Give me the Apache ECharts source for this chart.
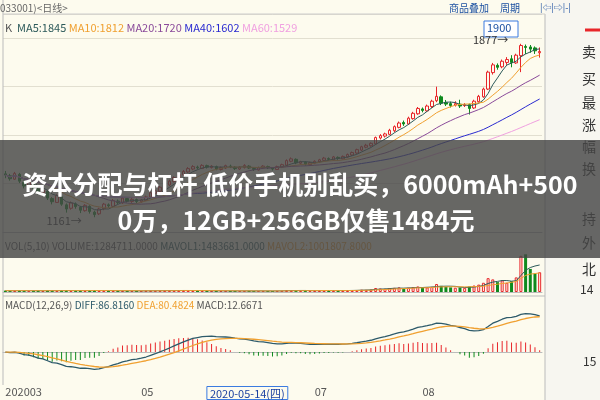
<!DOCTYPE html>
<html><head><meta charset="utf-8">
<script src="https://cdn.jsdelivr.net/npm/echarts@6/dist/echarts.min.js"></script>
<style>html,body{margin:0;padding:0;background:#fdfbee}#main{width:600px;height:400px}</style>
</head><body><div id="main"></div>
<script>
// 日K数据 [开, 收, 低, 高]
var kData = [
[1340,1335,1322,1352],[1332,1320,1312,1340],[1318,1342,1315,1348],[1338,1310,1302,1344],[1305,1290,1280,1312],
[1288,1305,1284,1310],[1300,1280,1272,1306],[1278,1265,1255,1284],[1262,1272,1258,1280],[1268,1240,1232,1272],
[1238,1225,1214,1244],[1222,1250,1220,1256],[1245,1215,1208,1250],[1212,1195,1180,1218],[1198,1220,1192,1226],
[1216,1205,1196,1222],[1202,1190,1178,1208],[1188,1210,1184,1215],[1206,1185,1176,1210],[1182,1172,1161,1188],
[1175,1195,1170,1200],[1196,1215,1190,1220],[1212,1208,1200,1218],[1206,1230,1202,1236],[1228,1222,1215,1234],
[1220,1240,1216,1244],[1238,1228,1222,1242],[1226,1235,1220,1240],[1234,1226,1218,1238],[1225,1232,1220,1236],
[1230,1245,1228,1250],[1244,1262,1240,1266],[1260,1270,1256,1275],[1268,1285,1265,1290],[1284,1296,1280,1300],
[1294,1310,1290,1316],[1308,1325,1304,1330],[1322,1338,1318,1342],[1336,1350,1332,1356],[1348,1362,1344,1368],
[1360,1370,1355,1376],[1368,1365,1358,1374],[1362,1375,1360,1380],[1374,1368,1362,1378],[1366,1372,1362,1376],
[1370,1360,1355,1374],[1358,1366,1354,1370],[1364,1374,1360,1378],[1372,1370,1364,1378],[1368,1362,1356,1372],
[1360,1368,1356,1372],[1366,1375,1362,1380],[1372,1364,1360,1376],[1362,1358,1352,1366],[1356,1366,1354,1370],
[1364,1372,1360,1376],[1370,1365,1360,1374],[1363,1360,1354,1368],[1358,1370,1356,1374],[1368,1378,1364,1382],
[1376,1395,1372,1400],[1392,1402,1388,1408],[1400,1385,1380,1404],[1384,1390,1378,1394],[1388,1380,1374,1392],
[1378,1386,1374,1390],[1384,1392,1380,1396],[1390,1398,1386,1402],[1396,1405,1392,1410],[1403,1400,1394,1408],
[1398,1410,1395,1414],[1408,1404,1398,1412],[1402,1412,1400,1416],[1410,1420,1406,1424],[1418,1428,1414,1432],
[1426,1440,1422,1444],[1438,1452,1434,1456],[1450,1458,1446,1464],[1456,1466,1452,1470],[1464,1490,1460,1494],
[1488,1498,1482,1504],[1496,1505,1490,1510],[1503,1520,1500,1526],[1518,1535,1512,1540],[1532,1550,1528,1556],
[1552,1546,1538,1560],[1546,1570,1542,1576],[1568,1590,1564,1596],[1588,1610,1584,1616],[1608,1602,1594,1614],
[1600,1620,1596,1626],[1618,1640,1612,1646],[1642,1660,1636,1700],[1658,1632,1624,1664],[1634,1628,1620,1645],
[1630,1622,1614,1638],[1624,1630,1618,1640],[1628,1620,1612,1646],[1622,1625,1616,1632],[1626,1610,1585,1630],
[1612,1640,1608,1646],[1638,1660,1634,1666],[1658,1690,1654,1696],[1690,1760,1686,1766],[1758,1790,1750,1798],
[1788,1780,1770,1796],[1782,1805,1776,1812],[1800,1812,1790,1822],[1815,1800,1780,1830],[1798,1830,1794,1836],
[1828,1870,1760,1877],[1866,1862,1835,1874],[1864,1855,1840,1872],[1860,1848,1835,1866],[1840,1845,1820,1862]
];
var volData = [
90000,80000,85000,95000,88000,76000,82000,90000,70000,92000,98000,86000,94000,105000,88000,80000,90000,84000,96000,110000,
95000,88000,76000,90000,70000,82000,74000,68000,72000,70000,86000,92000,84000,90000,96000,100000,92000,98000,104000,96000,
88000,80000,84000,76000,72000,70000,74000,78000,72000,68000,70000,76000,74000,66000,70000,72000,68000,66000,74000,80000,
120000,110000,96000,88000,82000,86000,90000,94000,100000,92000,96000,90000,98000,104000,110000,130000,150000,140000,160000,260000,
230000,210000,250000,270000,300000,220000,280000,320000,360000,280000,300000,340000,520000,400000,330000,300000,280000,290000,270000,360000,
420000,480000,600000,900000,820000,640000,760000,600000,700000,950000,2350000,2450000,1500000,1200000,1284711
];
// x轴标签
var xLabels = {0: '202003', 29: '05', 43: '2020-05-14(四)', 66: '07', 89: '08'};

var cats = kData.map(function (d, i) { return i; });
var closes = kData.map(function (d) { return d[1]; });

function ma(n, arr) {
    return arr.map(function (v, i) {
        var s = 0, c = 0;
        for (var j = Math.max(0, i - n + 1); j <= i; j++) { s += arr[j]; c++; }
        return +(s / c).toFixed(1);
    });
}
function ema(n, arr) {
    var k = 2 / (n + 1), out = [], prev = arr[0];
    arr.forEach(function (v) { prev = prev + k * (v - prev); out.push(prev); });
    return out;
}
var e12 = ema(12, closes), e26 = ema(26, closes);
var diff = e12.map(function (v, i) { return v - e26[i]; });
var dea = ema(9, diff);
var macd = diff.map(function (v, i) { return 2 * (v - dea[i]); });

var RED = '#e8262a', GREEN = '#0f8a1e';

var chart = echarts.init(document.getElementById('main'));
var grids = [
    {left: 3, right: 58, top: 14, height: 218},
    {left: 3, right: 58, top: 252, height: 40},
    {left: 3, right: 58, top: 300, height: 85}
];
function xa(idx, showLabel) {
    return {
        type: 'category', gridIndex: idx, data: cats, boundaryGap: true,
        axisTick: {show: false},
        axisLine: {lineStyle: {color: '#bbb'}},
        axisLabel: {
            show: showLabel, interval: 0, color: '#555', fontSize: 11, margin: 6, align: 'left',
            formatter: function (v) {
                var t = xLabels[v];
                if (!t) return '';
                return v == 43 ? '{box|' + t + '}' : t;
            },
            rich: {box: {color: '#1a3fa0', borderColor: '#3b7be0', borderWidth: 1, padding: [2, 3, 0, 3], fontSize: 11}}
        }
    };
}
var option = {
    backgroundColor: '#fdfbee',
    animation: false,
    textStyle: {fontFamily: 'Noto Sans CJK SC'},
    grid: grids,
    xAxis: [xa(0, false), xa(1, false), xa(2, true)],
    yAxis: [
        {gridIndex: 0, min: 1100, max: 2000, interval: 200, axisLabel: {show: false}, axisTick: {show: false},
         axisLine: {show: false}, splitLine: {lineStyle: {color: '#e2dfd0'}}},
        {gridIndex: 1, min: 0, max: 2600000, axisLabel: {show: false}, axisTick: {show: false},
         axisLine: {show: false}, splitLine: {show: false}},
        {gridIndex: 2, min: -60, max: 110, axisLabel: {show: false}, axisTick: {show: false},
         axisLine: {show: false}, splitLine: {show: false}}
    ],
    series: [
        {type: 'candlestick', data: kData, barWidth: 3,
         itemStyle: {color: '#fdfbee', color0: GREEN, borderColor: RED, borderColor0: GREEN, borderWidth: 1}},
        {type: 'line', data: ma(5, closes), symbol: 'none', lineStyle: {width: 1, color: '#2d5a5a'}},
        {type: 'line', data: ma(10, closes), symbol: 'none', lineStyle: {width: 1, color: '#f0a030'}},
        {type: 'line', data: ma(20, closes), symbol: 'none', lineStyle: {width: 1, color: '#8a4a9a'}},
        {type: 'line', data: ma(40, closes), symbol: 'none', lineStyle: {width: 1, color: '#2a2ad0'}},
        {type: 'line', data: ma(60, closes), symbol: 'none', lineStyle: {width: 1, color: '#f0a0e0'}},
        {type: 'bar', xAxisIndex: 1, yAxisIndex: 1, barWidth: 3,
         data: volData.map(function (v, i) {
             var up = kData[i][1] >= kData[i][0];
             return {value: v, itemStyle: up ? {color: '#fdfbee', borderColor: RED, borderWidth: 1} : {color: GREEN}};
         })},
        {type: 'line', xAxisIndex: 1, yAxisIndex: 1, data: ma(5, volData), symbol: 'none', lineStyle: {width: 1, color: '#2d5a5a'}},
        {type: 'line', xAxisIndex: 1, yAxisIndex: 1, data: ma(10, volData), symbol: 'none', lineStyle: {width: 1, color: '#f0a030'}},
        {type: 'bar', xAxisIndex: 2, yAxisIndex: 2, barWidth: 1,
         data: macd.map(function (v) { return {value: v, itemStyle: {color: v >= 0 ? RED : GREEN}}; })},
        {type: 'line', xAxisIndex: 2, yAxisIndex: 2, data: diff, symbol: 'none', lineStyle: {width: 1.3, color: '#2d5a6a'}},
        {type: 'line', xAxisIndex: 2, yAxisIndex: 2, data: dea, symbol: 'none', lineStyle: {width: 1.3, color: '#f0a030'}}
    ]
};
chart.setOption(option);

var hi = chart.convertToPixel({xAxisIndex: 0, yAxisIndex: 0}, [110, 1877]);
var lo = chart.convertToPixel({xAxisIndex: 0, yAxisIndex: 0}, [19, 1161]);
var f = 'Noto Sans CJK SC';
function txt(x, y, s, c, size, extra) {
    var o = {type: 'text', x: x, y: y, z: 50, style: {text: s, fill: c, font: (size || 12) + 'px "' + f + '"'}};
    if (extra) for (var k in extra) o.style[k] = extra[k];
    return o;
}
var side = ['卖', '买', '最', '涨', '幅', '换', '持', '外', '北'];
var sideY = [45, 72, 96, 118, 140, 162, 212, 236, 262];
var g = [
    {type: 'rect', shape: {x: 545, y: 0, width: 55, height: 400}, style: {fill: '#f7f6f0'}, z: 40},
    {type: 'line', shape: {x1: 545, y1: 14, x2: 545, y2: 400}, style: {stroke: '#bbb'}, z: 41},
    {type: 'line', shape: {x1: 3, y1: 0, x2: 3, y2: 385}, style: {stroke: '#bbb'}, z: 41},
    {type: 'line', shape: {x1: 3, y1: 14, x2: 545, y2: 14}, style: {stroke: '#ccc'}, z: 41},
    {type: 'line', shape: {x1: 3, y1: 296, x2: 545, y2: 296}, style: {stroke: '#bbb'}, z: 41},
    {type: 'line', shape: {x1: 585, y1: 30, x2: 600, y2: 30}, style: {stroke: '#e8262a', lineWidth: 3}, z: 41},
    txt(0, 3, '033001)<日线>', '#666', 10),
    txt(449, 3, '商品叠加', '#1a4fa0', 10, {textDecoration: 'underline'}),
    txt(500, 3, '周期', '#1a4fa0', 10),
    txt(540, 3, '|⇦|⇨|-|', '#1a4fa0', 9),
    {type: 'rect', shape: {x: 484, y: 21, width: 34, height: 16}, style: {fill: '#fff', stroke: '#3b7be0'}, z: 45},
    txt(487, 22, '1900', '#1a4fa0', 11),
    {type: 'text', x: 5, y: 22, z: 50, style: {rich: {
        k: {fill: '#555', fontSize: 11, fontFamily: f},
        a: {fill: '#2d5a5a', fontSize: 11, fontFamily: f},
        b: {fill: '#f0a030', fontSize: 11, fontFamily: f},
        c: {fill: '#8a4a9a', fontSize: 11, fontFamily: f},
        d: {fill: '#2a2ad0', fontSize: 11, fontFamily: f},
        e: {fill: '#f0a0e0', fontSize: 11, fontFamily: f}},
        text: '{k|K  }{a|MA5:1845 }{b|MA10:1812 }{c|MA20:1720 }{d|MA40:1602 }{e|MA60:1529}'}},
    txt(hi[0] - 48, hi[1] - 9, '1877→', '#333', 11),
    txt(lo[0] - 48, lo[1] - 2, '1161→', '#333', 11),
    {type: 'text', x: 5, y: 241, z: 50, style: {rich: {
        k: {fill: '#555', fontSize: 10, fontFamily: f},
        a: {fill: '#2d5a5a', fontSize: 10, fontFamily: f},
        b: {fill: '#f0a030', fontSize: 10, fontFamily: f}},
        text: '{k|VOL(5,10) VOLUME:1284711.0000 }{a|MAVOL1:1483681.0000 }{b|MAVOL2:1001807.8000}'}},
    {type: 'text', x: 5, y: 300, z: 50, style: {rich: {
        k: {fill: '#555', fontSize: 10, fontFamily: f},
        a: {fill: '#2d5a6a', fontSize: 10, fontFamily: f},
        b: {fill: '#f0a030', fontSize: 10, fontFamily: f}},
        text: '{k|MACD(12,26,9) }{a|DIFF:86.8160 }{b|DEA:80.4824 }{k|MACD:12.6671}'}},
    txt(580, 283, '14', '#333', 12),
    txt(583, 355, '15', '#333', 12),
    {type: 'rect', shape: {x: 0, y: 140, width: 600, height: 118}, style: {fill: 'rgba(70,70,70,0.82)'}, z: 90},
    {type: 'text', x: 300, y: 184, z: 91, style: {text: '资本分配与杠杆 低价手机别乱买，6000mAh+500', fill: '#fff',
        font: 'bold 25px "' + f + '"', align: 'center', verticalAlign: 'middle'}},
    {type: 'text', x: 296, y: 220, z: 91, style: {text: '0万，12GB+256GB仅售1484元', fill: '#fff',
        font: 'bold 25px "' + f + '"', align: 'center', verticalAlign: 'middle'}}
];
side.forEach(function (s, i) { g.push(txt(582, sideY[i], s, '#333', 14)); });
chart.setOption({graphic: g});
</script></body></html>
